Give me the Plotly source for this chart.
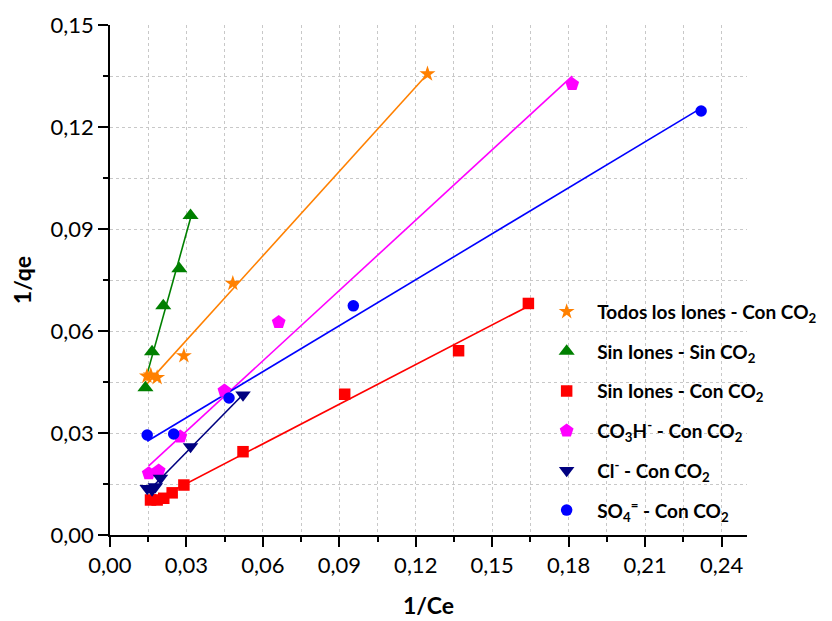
import numpy as np
import plotly.graph_objects as go

# ---- data ----
todos_x = [0.0145, 0.0160, 0.0185, 0.0290, 0.0482, 0.1246]
todos_y = [0.0467, 0.0470, 0.0463, 0.0527, 0.0740, 0.1356]

sin_sin_x = [0.0139, 0.0165, 0.0209, 0.0272, 0.0316]
sin_sin_y = [0.0433, 0.0539, 0.0674, 0.0783, 0.0940]

sin_con_x = [0.0159, 0.0185, 0.0211, 0.0244, 0.0290, 0.0522, 0.0921, 0.1368, 0.1642]
sin_con_y = [0.0103, 0.0103, 0.0108, 0.0124, 0.0147, 0.0245, 0.0414, 0.0542, 0.0681]

co3h_x = [0.0152, 0.0191, 0.0276, 0.0449, 0.0662, 0.1814]
co3h_y = [0.0181, 0.0189, 0.0289, 0.0424, 0.0626, 0.1326]

cl_x = [0.0146, 0.0165, 0.0178, 0.0198, 0.0316, 0.0522]
cl_y = [0.0137, 0.0132, 0.0142, 0.0167, 0.0260, 0.0412]

so4_x = [0.0146, 0.0250, 0.0467, 0.0955, 0.2320]
so4_y = [0.0294, 0.0297, 0.0403, 0.0674, 0.1247]

names = [
    "Todos los Iones - Con CO<sub>2</sub>",
    "Sin Iones - Sin CO<sub>2</sub>",
    "Sin Iones - Con CO<sub>2</sub>",
    "CO<sub>3</sub>H<sup>-</sup> - Con CO<sub>2</sub>",
    "Cl<sup>-</sup> - Con CO<sub>2</sub>",
    "SO<sub>4</sub><sup>=</sup> - Con CO<sub>2</sub>",
]
colors = ["#FF8000", "#008000", "#FF0000", "#FF00FF", "#000080", "#0000FF"]
symbols = ["star", "triangle-up", "square", "pentagon", "triangle-down", "circle"]
sizes = [12, 14, 11.5, 14.5, 13.5, 11.5]

series = [
    (todos_x, todos_y),
    (sin_sin_x, sin_sin_y),
    (sin_con_x, sin_con_y),
    (co3h_x, co3h_y),
    (cl_x, cl_y),
    (so4_x, so4_y),
]

FONT = "Lato, Carlito, 'DejaVu Sans', sans-serif"

fig = go.Figure()

# linear fit lines
for (xs, ys), c in zip(series, colors):
    m, b = np.polyfit(xs, ys, 1)
    xl = np.array([min(xs), max(xs)])
    fig.add_trace(go.Scatter(x=xl, y=m * xl + b, mode="lines",
                             line=dict(color=c, width=1.6),
                             showlegend=False, hoverinfo="skip"))

# markers
for i, ((xs, ys), n, c, s, sz) in enumerate(zip(series, names, colors, symbols, sizes)):
    fig.add_trace(go.Scatter(x=xs, y=ys, mode="markers", name=n,
                             legendgroup=f"g{i}",
                             marker=dict(color=c, symbol=s, size=sz,
                                         line=dict(width=0))))

axis_common = dict(
    showline=True, linecolor="black", linewidth=1.8,
    ticks="outside", ticklen=10, tickwidth=1.8, tickcolor="black",
    showgrid=True, gridcolor="#C8C8C8", gridwidth=1, griddash="dot",
    zeroline=False, mirror=False,
    tickfont=dict(family=FONT, size=22, color="black"),
    tickformat=".2f",
    minor=dict(dtick=0.015, ticks="outside", ticklen=5, tickwidth=1.5,
               tickcolor="black", showgrid=True, gridcolor="#C8C8C8",
               gridwidth=1, griddash="dot"),
)

fig.update_xaxes(range=[0, 0.25], dtick=0.03, tick0=0,
                 title=dict(text="<b>1/Ce</b>", font=dict(family=FONT, size=23, color="black"),
                            standoff=21),
                 **axis_common)
fig.update_yaxes(range=[0, 0.15], dtick=0.03, tick0=0,
                 title=dict(text="<b>1/qe</b>", font=dict(family=FONT, size=23, color="black"),
                            standoff=12),
                 **axis_common)

fig.update_layout(
    width=832, height=621,
    margin=dict(l=102, r=93, t=17, b=94, autoexpand=False),
    plot_bgcolor="white", paper_bgcolor="white",
    separators=", ",
    font=dict(family=FONT, color="black"),
    legend=dict(x=0.669, y=0.475, xanchor="left", yanchor="top",
                bgcolor="rgba(0,0,0,0)",
                font=dict(family=FONT, size=19, color="black", weight="bold"),
                itemwidth=51, tracegroupgap=12),
)

fig.write_html("out.html")
